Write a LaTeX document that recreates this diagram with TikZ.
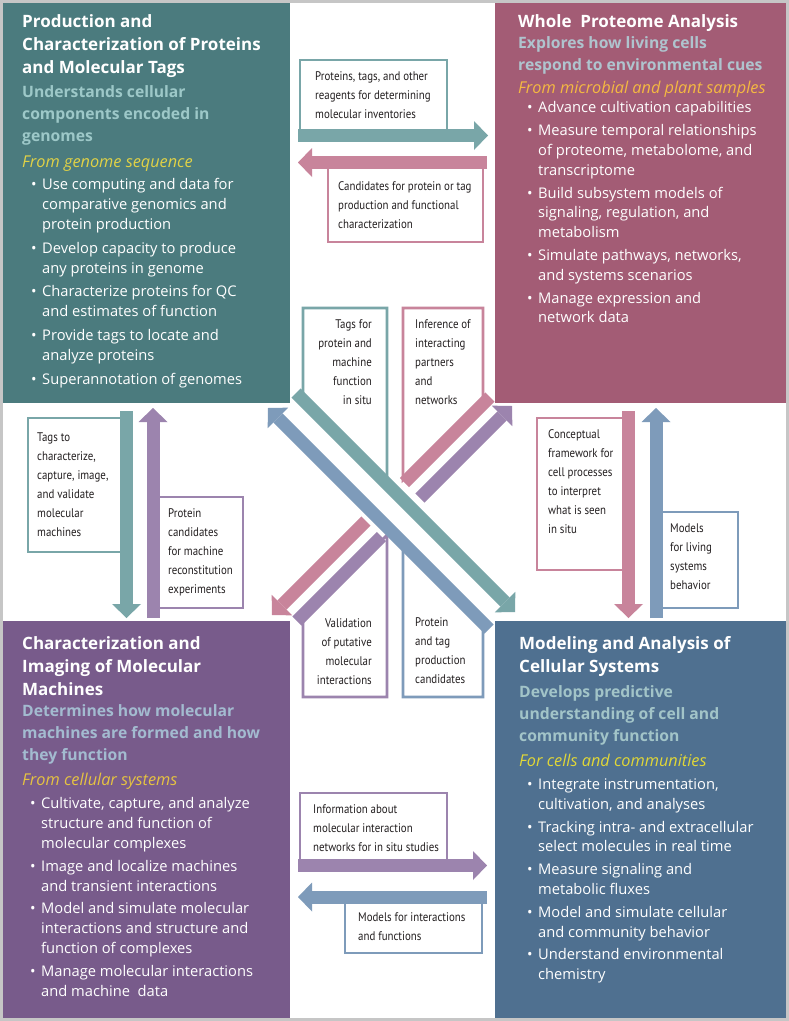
\documentclass[tikz,border=0pt]{standalone}
\usepackage{fontspec}
\setmainfont{Open Sans}
\newfontfamily\condfont[FakeStretch=0.87]{PT Sans}
\usetikzlibrary{arrows.meta}
\definecolor{tealbox}{HTML}{4B7B7E}
\definecolor{rosebox}{HTML}{A35C75}
\definecolor{purplebox}{HTML}{785B8B}
\definecolor{bluebox}{HTML}{4F7090}
\definecolor{tealarrow}{HTML}{79A6A8}
\definecolor{rosearrow}{HTML}{C8849B}
\definecolor{purplearrow}{HTML}{9C84AE}
\definecolor{bluearrow}{HTML}{7E9BBA}
\definecolor{subteal}{HTML}{9DC8C8}
\definecolor{subslate}{HTML}{AFC4CE}
\definecolor{subblue}{HTML}{A3BBD0}
\definecolor{subsea}{HTML}{A2C4C8}
\definecolor{lemon}{HTML}{E1D246}
\definecolor{amber}{HTML}{F5B941}
\definecolor{ochre}{HTML}{E6C341}
\definecolor{citron}{HTML}{E1D737}
\definecolor{ink}{HTML}{231F20}
\definecolor{framegrey}{HTML}{C6C6C6}
\newcommand{\bulletmark}{\makebox[11bp][l]{\textbullet}}
\newcommand{\contindent}{\hspace*{11bp}}

\begin{document}
\begin{tikzpicture}[
    x=1bp, y=-1bp,
    quad/.style={fill=#1, anchor=north west, inner sep=0pt},
    ttl/.style={font=\fontsize{17bp}{23.3bp}\selectfont\bfseries, text=white,
        align=left, anchor=north west, inner sep=0pt},
    sub/.style={font=\fontsize{15.7bp}{22bp}\selectfont\bfseries, text=#1,
        align=left, anchor=north west, inner sep=0pt},
    src/.style={font=\fontsize{16.3bp}{20bp}\selectfont\itshape, text=#1,
        anchor=north west, inner sep=0pt},
    pts/.style={font=\fontsize{14.7bp}{19.8bp}\selectfont, text=white,
        align=left, anchor=north west, inner sep=0pt},
    lbl/.style={font=\condfont\fontsize{12.5bp}{19bp}\selectfont, text=ink,
        align=left, anchor=north west, inner sep=0pt},
    lblr/.style={lbl, align=right, anchor=north east},
    tagbox/.style={draw=#1, line width=2.6bp, fill=white},
    band/.style={draw=#1, line width=13bp},
    fat/.style={band=#1, -{Triangle[length=14bp, width=29bp, line width=0pt]}},
]

% ---------------- frame ----------------
\fill[framegrey] (0,0) rectangle (789,1021);
\fill[white] (3,3) rectangle (786,1018);

% ---------------- quadrant panels ----------------
\node[quad=tealbox, minimum width=287bp, minimum height=400bp] (prod) at (3,3) {};
\node[quad=rosebox, minimum width=291bp, minimum height=400bp] (prot) at (495,3) {};
\node[quad=purplebox, minimum width=287bp, minimum height=397bp] (mach) at (3,621) {};
\node[quad=bluebox, minimum width=291bp, minimum height=397bp] (model) at (495,621) {};

% Production and Characterization
\node[ttl] (prodttl) at (22,14) {Production and\\Characterization of Proteins\\and Molecular Tags};
\node[sub=subteal] (prodsub) at (22,85.5) {Understands cellular\\components encoded in\\genomes};
\node[src=lemon] (prodsrc) at (22,155.5) {From genome sequence};
\node[pts] (prodpts) at (31,178.5) {%
    \bulletmark Use computing and data for\\\contindent comparative genomics and\\\contindent protein production\\[4bp]
    \bulletmark Develop capacity to produce\\\contindent any proteins in genome\\[4bp]
    \bulletmark Characterize proteins for QC\\\contindent and estimates of function\\[4bp]
    \bulletmark Provide tags to locate and\\\contindent analyze proteins\\[4bp]
    \bulletmark Superannotation of genomes};

% Whole Proteome Analysis
\node[ttl] (protttl) at (518,14) {Whole\ \ Proteome Analysis};
\node[sub=subslate] (protsub) at (518,36.5) {Explores how living cells\\respond to environmental cues};
\node[src=amber] (protsrc) at (518,80.5) {From microbial and plant samples};
\node[pts] (protpts) at (527,101.5) {%
    \bulletmark Advance cultivation capabilities\\[3bp]
    \bulletmark Measure temporal relationships\\\contindent of proteome, metabolome, and\\\contindent transcriptome\\[3bp]
    \bulletmark Build subsystem models of\\\contindent signaling, regulation, and\\\contindent metabolism\\[3bp]
    \bulletmark Simulate pathways, networks,\\\contindent and systems scenarios\\[3bp]
    \bulletmark Manage expression and\\\contindent network data};

% Characterization and Imaging
\node[ttl] (machttl) at (22,636) {Characterization and\\Imaging of Molecular\\Machines};
\node[sub=subblue] (machsub) at (22,704) {Determines how molecular\\machines are formed and how\\they function};
\node[src=ochre] (machsrc) at (22,772.5) {From cellular systems};
\node[pts] (machpts) at (30,797.5) {%
    \bulletmark Cultivate, capture, and analyze\\\contindent structure and function of\\\contindent molecular complexes\\[3bp]
    \bulletmark Image and localize machines\\\contindent and transient interactions\\[3bp]
    \bulletmark Model and simulate molecular\\\contindent interactions and structure and\\\contindent function of complexes\\[3.5bp]
    \bulletmark Manage molecular interactions\\\contindent and machine\ \ data};

% Modeling and Analysis
\node[ttl] (modelttl) at (519,636) {Modeling and Analysis of\\Cellular Systems};
\node[sub=subsea] (modelsub) at (519,685.5) {Develops predictive\\understanding of cell and\\community function};
\node[src=citron] (modelsrc) at (519,753.5) {For cells and communities};
\node[pts] (modelpts) at (527,778.5) {%
    \bulletmark Integrate instrumentation,\\\contindent cultivation, and analyses\\[3bp]
    \bulletmark Tracking intra- and extracellular\\\contindent select molecules in real time\\[3bp]
    \bulletmark Measure signaling and\\\contindent metabolic fluxes\\[3bp]
    \bulletmark Model and simulate cellular\\\contindent and community behavior\\[3bp]
    \bulletmark Understand environmental\\\contindent chemistry};

% ---------------- label boxes ----------------
\draw[tagbox=tealarrow] (300,60) rectangle (447,135);
\draw[tagbox=rosearrow] (328,162) rectangle (483,242);
\draw[tagbox=purplearrow] (300,793) rectangle (447,866);
\draw[tagbox=bluearrow] (345,897) rectangle (482,953);
\draw[tagbox=tealarrow] (28,418) rectangle (126,552);
\draw[tagbox=purplearrow] (153,497) rectangle (243,608);
\draw[tagbox=rosearrow] (537,418) rectangle (628,570);
\draw[tagbox=bluearrow] (656,512) rectangle (738,608);
% centre boxes, cut by the diagonals
\draw[tagbox=tealarrow] (303,395) -- (303,308) -- (387,308) -- (387,479) -- cycle;
\draw[tagbox=rosearrow] (403,480) -- (403,308) -- (483,308) -- (483,400) -- cycle;
\draw[tagbox=purplearrow] (303,619) -- (303,697) -- (387,697) -- (387,535) -- cycle;
\draw[tagbox=bluearrow] (403,548) -- (403,697) -- (483,697) -- (483,628) -- cycle;

\node[lbl] (invtxt) at (315,71) {Proteins, tags, and other\\reagents for determining\\molecular inventories};
\node[lbl] (candtxt) at (338,181) {Candidates for protein or tag\\production and functional\\characterization};
\node[lbl] (infotxt) at (313,804) {Information about\\molecular interaction\\networks for in situ studies};
\node[lbl] (modtxt) at (358,912) {Models for interactions\\and functions};
\node[lbl] (tagstxt) at (37,432.5) {Tags to\\characterize,\\capture, image,\\and validate\\molecular\\machines};
\node[lbl] (recontxt) at (168,508) {Protein\\candidates\\for machine\\reconstitution\\experiments};
\node[lbl] (frametxt) at (548,429) {Conceptual\\framework for\\cell processes\\to interpret\\what is seen\\in situ};
\node[lbl] (livtxt) at (670,524) {Models\\for living\\systems\\behavior};
\node[lblr] (insitutxt) at (372,319) {Tags for\\protein and\\machine\\function\\in situ};
\node[lbl] (parttxt) at (415,319) {Inference of\\interacting\\partners\\and\\networks};
\node[lblr] (validtxt) at (372,618) {Validation\\of putative\\molecular\\interactions};
\node[lbl] (tagprodtxt) at (415,617) {Protein\\and tag\\production\\candidates};

% ---------------- arrows ----------------
\coordinate (invA) at (298,135.5);   \coordinate (invB) at (488,135.5);
\coordinate (candA) at (487,162.5);  \coordinate (candB) at (298,162.5);
\coordinate (infoA) at (298,865.5);  \coordinate (infoB) at (487,865.5);
\coordinate (modA) at (487,897);     \coordinate (modB) at (298,897);
\coordinate (tagsA) at (126.5,411);  \coordinate (tagsB) at (126.5,618);
\coordinate (reconA) at (153,618);   \coordinate (reconB) at (153,408);
\coordinate (frameA) at (628.5,411); \coordinate (frameB) at (628.5,618);
\coordinate (livA) at (656,618);     \coordinate (livB) at (656,408);
\coordinate (insituA) at (296,393);  \coordinate (insituB) at (515,612);
\coordinate (tagprodA) at (489,629); \coordinate (tagprodB) at (268,408);
\coordinate (partA) at (490,397);    \coordinate (partB) at (404.5,482.5);
\coordinate (partC) at (366,521);    \coordinate (partD) at (272,615);
\coordinate (validA) at (297,621);   \coordinate (validB) at (381.5,536.5);
\coordinate (validC) at (420,498);   \coordinate (validD) at (512,406);

% rose and purple pass under the long pair
\draw[band=rosearrow] (partA) -- (partB);
\draw[band=purplearrow] (validA) -- (validB);

\foreach \col/\a/\b in {tealarrow/invA/invB, rosearrow/candA/candB,
        purplearrow/infoA/infoB, bluearrow/modA/modB,
        tealarrow/tagsA/tagsB, purplearrow/reconA/reconB,
        rosearrow/frameA/frameB, bluearrow/livA/livB,
        tealarrow/insituA/insituB, bluearrow/tagprodA/tagprodB,
        rosearrow/partC/partD, purplearrow/validC/validD}
    \draw[fat=\col] (\a) -- (\b);

\end{tikzpicture}
\end{document}
